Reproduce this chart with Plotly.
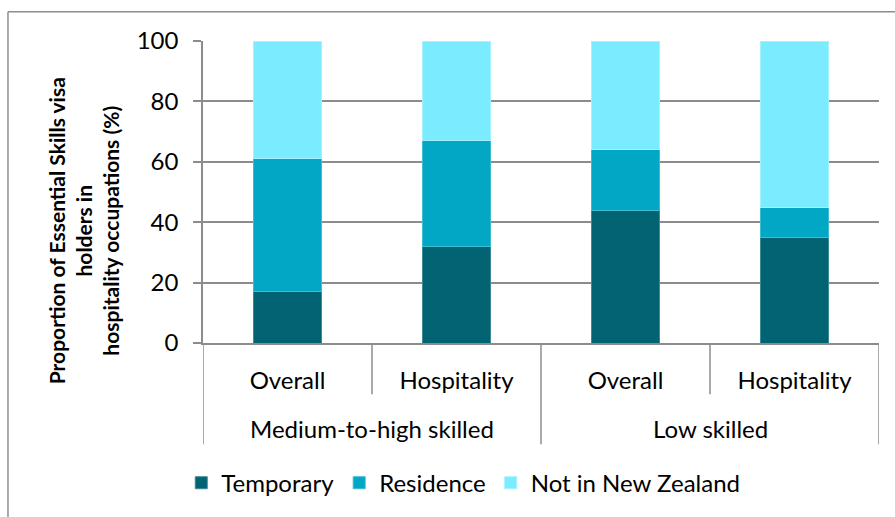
import plotly.graph_objects as go

# Data
categories = ["Overall", "Hospitality", "Overall", "Hospitality"]
groups = ["Medium-to-high skilled", "Low skilled"]
temporary = [17, 32, 44, 35]
residence = [44, 35, 20, 10]
not_in_nz = [39, 33, 36, 55]
y_ticks = [0, 20, 40, 60, 80, 100]

series_names = ["Temporary", "Residence", "Not in New Zealand"]
series_colors = ["#026373", "#01A7C4", "#7BEBFF"]
edge_colors = ["#3C8A96", "#3FBCD2", "#A4F2FF"]

FONT = "Lato"
GRID = "#8C8C8C"
FS = 24

x_pos = list(range(len(categories)))

fig = go.Figure()
for name, vals, col, edge in zip(series_names, [temporary, residence, not_in_nz],
                                 series_colors, edge_colors):
    fig.add_trace(go.Bar(
        x=x_pos, y=vals, name=name, width=0.4,
        marker=dict(color=col, line=dict(color=edge, width=1)),
    ))

shapes = []
# category dividers below the x axis: short between sub-categories, long between groups
for xb, yb in [(-0.5, -0.335), (0.5, -0.17), (1.5, -0.335), (2.5, -0.17), (3.5, -0.335)]:
    shapes.append(dict(type="line", xref="x", yref="paper", x0=xb, x1=xb, y0=0, y1=yb,
                       line=dict(color=GRID, width=1.5)))
# outer chart frame (top and left edges)
shapes.append(dict(type="line", xref="paper", yref="paper", x0=-0.2885, x1=1.1,
                   y0=1.097, y1=1.097, line=dict(color="#8E8E8E", width=1.5)))
shapes.append(dict(type="line", xref="paper", yref="paper", x0=-0.2885, x1=-0.2885,
                   y0=1.097, y1=-0.7, line=dict(color="#8E8E8E", width=1.5)))

annotations = []
for gi, g in enumerate(groups):
    annotations.append(dict(x=0.5 + 2 * gi, y=-0.283, xref="x", yref="paper",
                            text=g, showarrow=False, xanchor="center", yanchor="middle",
                            font=dict(family=FONT, size=FS, color="#000000")))
annotations.append(dict(
    x=-0.176, y=0.37, xref="paper", yref="paper",
    text="Proportion of Essential Skills visa<br>holders in<br>hospitality occupations (%)",
    textangle=-90, showarrow=False, xanchor="center", yanchor="middle",
    font=dict(family=FONT, size=21, color="#000000", weight="bold"),
))

fig.update_layout(
    barmode="stack",
    width=895, height=517,
    margin=dict(l=203, r=16, t=41, b=172),
    paper_bgcolor="white", plot_bgcolor="white",
    font=dict(family=FONT, size=FS, color="#000000"),
    shapes=shapes, annotations=annotations,
    legend=dict(orientation="h", x=0.385, y=-0.464, xanchor="center", yanchor="middle",
                font=dict(family=FONT, size=FS), traceorder="normal", itemwidth=30),
    xaxis=dict(range=[-0.5, 3.5], tickmode="array", tickvals=x_pos, ticktext=categories,
               showgrid=False, zeroline=False, showline=True, linecolor=GRID, linewidth=1.5,
               ticks="", ticklabelstandoff=15, tickfont=dict(family=FONT, size=FS)),
    yaxis=dict(range=[0, 100], tickvals=y_ticks, showgrid=True, gridcolor=GRID, gridwidth=1.5,
               zeroline=False, showline=True, linecolor=GRID, linewidth=1.5,
               ticks="outside", ticklen=8, tickcolor=GRID, tickwidth=1.5,
               ticklabelstandoff=10, tickfont=dict(family=FONT, size=FS)),
)

fig.write_html("out.html")
